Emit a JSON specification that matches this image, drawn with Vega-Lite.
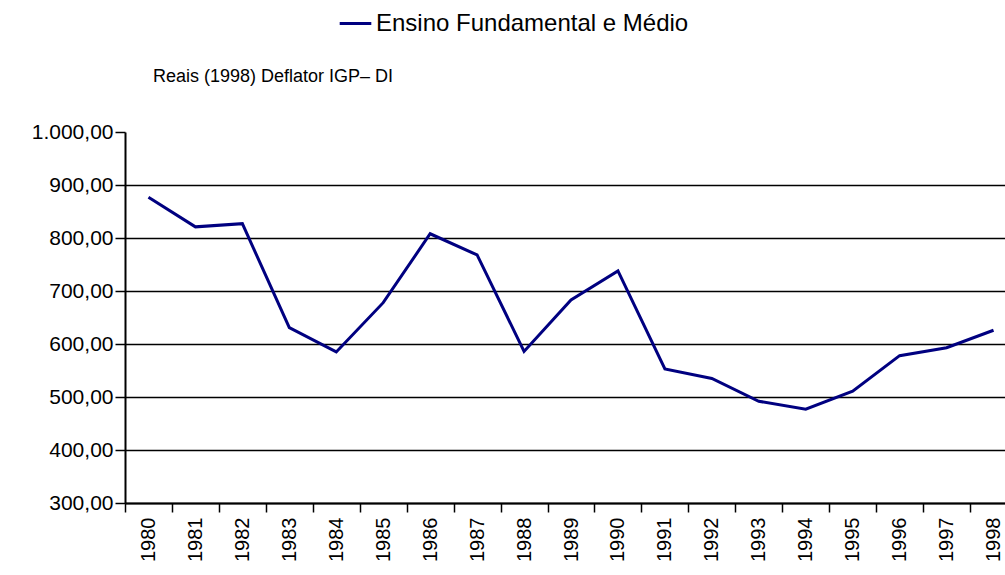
{
  "$schema": "https://vega.github.io/schema/vega-lite/v6.json",
  "autosize": {"type": "none"},
  "width": 880,
  "height": 371,
  "padding": {"left": 125, "top": 132, "right": 0, "bottom": 72},
  "background": "white",
  "title": {"text": "Reais (1998) Deflator IGP– DI", "anchor": "start", "frame": "group", "dx": 28, "offset": -80, "fontSize": 18, "font": "Liberation Sans", "fontWeight": "normal", "color": "black"},
  "config": {
    "locale": {"number": {"decimal": ",", "thousands": ".", "grouping": [3], "currency": ["R$", ""]}},
    "view": {"stroke": null},
    "font": "Liberation Sans"
  },
  "data": {"values": [
    {"ano": "1980", "valor": 877, "serie": "Ensino Fundamental e Médio"},
    {"ano": "1981", "valor": 821, "serie": "Ensino Fundamental e Médio"},
    {"ano": "1982", "valor": 827, "serie": "Ensino Fundamental e Médio"},
    {"ano": "1983", "valor": 631, "serie": "Ensino Fundamental e Médio"},
    {"ano": "1984", "valor": 585, "serie": "Ensino Fundamental e Médio"},
    {"ano": "1985", "valor": 678, "serie": "Ensino Fundamental e Médio"},
    {"ano": "1986", "valor": 808, "serie": "Ensino Fundamental e Médio"},
    {"ano": "1987", "valor": 768, "serie": "Ensino Fundamental e Médio"},
    {"ano": "1988", "valor": 586, "serie": "Ensino Fundamental e Médio"},
    {"ano": "1989", "valor": 683, "serie": "Ensino Fundamental e Médio"},
    {"ano": "1990", "valor": 738, "serie": "Ensino Fundamental e Médio"},
    {"ano": "1991", "valor": 553, "serie": "Ensino Fundamental e Médio"},
    {"ano": "1992", "valor": 535, "serie": "Ensino Fundamental e Médio"},
    {"ano": "1993", "valor": 492, "serie": "Ensino Fundamental e Médio"},
    {"ano": "1994", "valor": 477, "serie": "Ensino Fundamental e Médio"},
    {"ano": "1995", "valor": 511, "serie": "Ensino Fundamental e Médio"},
    {"ano": "1996", "valor": 578, "serie": "Ensino Fundamental e Médio"},
    {"ano": "1997", "valor": 593, "serie": "Ensino Fundamental e Médio"},
    {"ano": "1998", "valor": 626, "serie": "Ensino Fundamental e Médio"}
  ]},
  "mark": {"type": "line", "strokeWidth": 3, "clip": false},
  "encoding": {
    "x": {
      "field": "ano", "type": "ordinal", "bandPosition": 0.5,
      "scale": {"type": "band", "paddingInner": 0, "paddingOuter": 0, "range": [0, 892]},
      "axis": {
        "title": null, "tickBand": "extent", "labelAngle": -90, "labelFontSize": 20,
        "labelColor": "black", "labelPadding": 5, "tickSize": 9, "tickColor": "black",
        "tickWidth": 1.5, "domainColor": "black", "domainWidth": 2, "grid": false
      }
    },
    "y": {
      "field": "valor", "type": "quantitative",
      "scale": {"domain": [300, 1000], "nice": false, "zero": false},
      "axis": {
        "title": null, "values": [300, 400, 500, 600, 700, 800, 900, 1000], "format": ",.2f",
        "labelFontSize": 21, "labelColor": "black", "labelPadding": 2, "tickSize": 10,
        "tickColor": "black", "tickWidth": 1.5, "domainColor": "black", "domainWidth": 2,
        "grid": true, "gridColor": "black", "gridWidth": 1.5,
        "gridOpacity": {"condition": {"test": "datum.value >= 1000", "value": 0}, "value": 1}
      }
    },
    "color": {
      "field": "serie", "type": "nominal",
      "scale": {"range": ["#000080"]},
      "legend": {
        "orient": "none", "legendX": 213, "legendY": -126, "title": null,
        "labelFontSize": 24, "labelLimit": 600, "labelColor": "black", "symbolType": "stroke",
        "symbolSize": 1000, "symbolStrokeWidth": 3, "labelOffset": 3
      }
    }
  }
}
